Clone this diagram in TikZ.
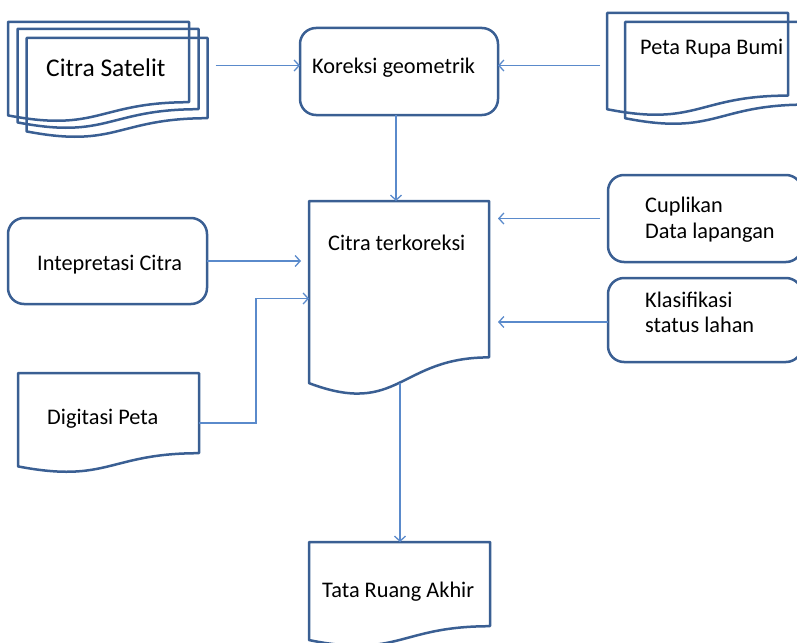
\documentclass[tikz,border=0pt]{standalone}
\usepackage{fontspec}
\setmainfont{Carlito}
\usetikzlibrary{calc,arrows.meta}
\definecolor{outl}{HTML}{3A5F93}
\definecolor{connc}{HTML}{5A8ACB}
\tikzset{
  x=1pt,y=-1pt,
  docbox/.style={draw=none,inner sep=0pt,outer sep=0pt,rectangle},
  rbox/.style={draw=outl,line width=2.5pt,rounded corners=16pt,inner sep=0pt,outer sep=0pt,rectangle},
  docline/.style={draw=outl,line width=2.5pt,line join=round},
  conn/.style={draw=connc,line width=1.3pt,-{Straight Barb[length=5pt,width=11pt,line width=1.3pt]}},
  lbl/.style={anchor=base west,inner sep=0pt,font=\fontsize{22.3}{27}\selectfont,text=black},
  biglbl/.style={anchor=base west,inner sep=0pt,font=\fontsize{25.5}{30}\selectfont,text=black}
}
\newcommand\docoutline[1]{%
  \draw[docline] (#1.north west) -- (#1.north east)
    -- ($(#1.north east)!0.802!(#1.south east)$)
    .. controls ($(#1.north)!0.802!(#1.south)$) and ($(#1.north)!1.108!(#1.south)$)
    .. ($(#1.north west)!0.934!(#1.south west)$) -- cycle;}
\begin{document}
\begin{tikzpicture}
\useasboundingbox (0,0) rectangle (797,642);
\clip (0,0) rectangle (797,642);
% Citra Satelit stack
\node[docbox,minimum width=181pt,minimum height=100pt] (cs1) at (98.5,72) {};
\node[docbox,minimum width=181pt,minimum height=100pt] (cs2) at (108,79) {};
\node[docbox,minimum width=181pt,minimum height=100pt] (cs3) at (117,88) {};
\docoutline{cs1}\docoutline{cs2}\docoutline{cs3}
\node[biglbl] (csl) at (46,76) {Citra Satelit};
% Peta Rupa Bumi
\node[docbox,minimum width=181pt,minimum height=103pt] (pr1) at (697.5,64.5) {};
\node[docbox,minimum width=181pt,minimum height=103pt] (pr2) at (715.5,73.5) {};
\docoutline{pr1}\docoutline{pr2}
\node[lbl] (prl) at (640,55) {Peta Rupa Bumi};
% Koreksi geometrik
\node[rbox,minimum width=198pt,minimum height=87pt] (kg) at (399,71.5) {};
\node[lbl] (kgl) at (312,74) {Koreksi geometrik};
% Citra terkoreksi
\node[docbox,minimum width=180pt,minimum height=195pt] (ct) at (399,298.5) {};
\docoutline{ct}
\node[lbl] (ctl) at (328,250) {Citra terkoreksi};
% Intepretasi Citra
\node[rbox,minimum width=199pt,minimum height=86pt] (ib) at (107.5,261) {};
\node[lbl] (ibl) at (37,270) {Intepretasi Citra};
% Digitasi Peta
\node[docbox,minimum width=181pt,minimum height=100pt] (dp) at (108.5,423) {};
\docoutline{dp}
\node[lbl] (dpl) at (47,424) {Digitasi Peta};
% Cuplikan
\node[rbox,minimum width=194pt,minimum height=87pt] (cd) at (705,218.5) {};
\node[lbl] (cdl1) at (645,212) {Cuplikan};
\node[lbl] (cdl2) at (645,238) {Data lapangan};
% Klasifikasi
\node[rbox,minimum width=194pt,minimum height=84pt] (kl) at (705,320) {};
\node[lbl] (kll1) at (645,307) {Klasifikasi};
\node[lbl] (kll2) at (645,332) {status lahan};
% Tata Ruang Akhir
\node[docbox,minimum width=181pt,minimum height=105pt] (tr) at (399.5,594.5) {};
\docoutline{tr}
\node[lbl] (trl) at (322,597) {Tata Ruang Akhir};
% connectors
\draw[conn] ($(kg.west -| cs3.east)+(8,-6)$) -- ($(kg.west)+(0,-6)$);
\draw[conn] ($(kg.east -| pr1.west)+(-7,-6)$) -- ($(kg.east)+(0,-6)$);
\draw[conn] ($(kg.south)+(-3,0)$) -- ($(kg.south |- ct.north)+(-3,0)$);
\draw[conn] (ib.east) -- ($(ib.east -| ct.west)+(-8,0)$);
\draw[conn] (dp.east) -- ++(57,0) |- (ct.west);
\draw[conn] ($(cd.west)+(-8,0)$) -- ($(cd.west -| ct.east)+(9,0)$);
\draw[conn] ($(kl.west)+(0,2)$) -- ($(kl.west -| ct.east)+(9,2)$);
\coordinate (ctb) at ($(ct.south)+(1,-13)$);
\draw[conn] (ctb) -- (ctb |- tr.north);
\end{tikzpicture}
\end{document}
